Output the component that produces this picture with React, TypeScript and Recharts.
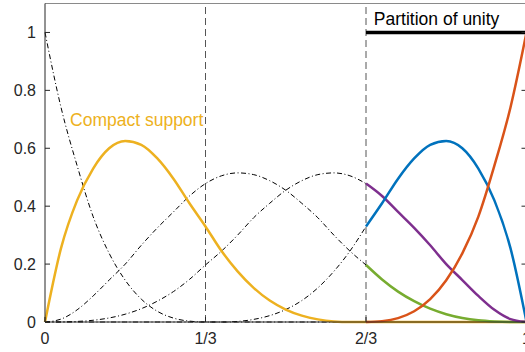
import { Line, LineChart, ReferenceDot, ReferenceLine, XAxis, YAxis } from "recharts";

// sample positions along the parameter axis
const xs = [
  0, 0.0333, 0.0667, 0.1, 0.1333, 0.1667, 0.2, 0.2333, 0.2667, 0.3, 0.3333, 0.3667, 0.4, 0.4333, 0.4667, 0.5,
  0.5333, 0.5667, 0.6, 0.6333, 0.6667, 0.7, 0.7333, 0.7667, 0.8, 0.8333, 0.8667, 0.9, 0.9333, 0.9667, 1
];

const xTicks = [0, 1 / 3, 2 / 3, 1];
const xTickLabels = ["0", "1/3", "2/3", "1"];
const yTicks = [0, 0.2, 0.4, 0.6, 0.8, 1];
const yTickLabels = ["0", "0.2", "0.4", "0.6", "0.8", "1"];

// basis functions on [0, 2/3] (dash-dot)
const n0Dash = [1, 0.741, 0.54, 0.364, 0.237, 0.144, 0.079, 0.037, 0.0135, 0.003, 0, 0, 0, 0, 0, 0, 0, 0, 0, 0, 0];
const n2Dash = [0, 0.01, 0.042, 0.09, 0.145, 0.2, 0.265, 0.325, 0.38, 0.435, 0.478, 0.505, 0.515, 0.509, 0.488, 0.455, 0.41, 0.36, 0.3, 0.245, 0.197];
const n3Dash = [0, 0.0003, 0.002, 0.006, 0.014, 0.027, 0.046, 0.072, 0.105, 0.147, 0.197, 0.245, 0.3, 0.36, 0.41, 0.455, 0.488, 0.509, 0.515, 0.505, 0.478];
const n4Dash = [0, 0, 0, 0, 0, 0, 0, 0, 0, 0, 0, 0, 0.002, 0.009, 0.022, 0.043, 0.074, 0.118, 0.175, 0.245, 0.33];

// the highlighted basis function, whole interval
const n1Curve = [
  0, 0.255, 0.42, 0.53, 0.6, 0.625, 0.612, 0.565, 0.495, 0.41, 0.33, 0.245, 0.175, 0.118, 0.074, 0.043, 0.022, 0.009,
  0.002, 0, 0, 0, 0, 0, 0, 0, 0, 0, 0, 0, 0
];

// basis functions on [2/3, 1]
const n2Right = [0.197, 0.147, 0.105, 0.072, 0.046, 0.027, 0.014, 0.006, 0.002, 0.0003, 0];
const n3Right = [0.478, 0.435, 0.38, 0.325, 0.265, 0.2, 0.145, 0.09, 0.042, 0.01, 0];
const n4Right = [0.33, 0.41, 0.495, 0.565, 0.612, 0.625, 0.6, 0.53, 0.42, 0.255, 0];
const n5Right = [0, 0.003, 0.0135, 0.037, 0.079, 0.144, 0.237, 0.364, 0.54, 0.741, 1];
const unityRight = [1, 1, 1, 1, 1, 1, 1, 1, 1, 1, 1];

const SPLIT = 20;

const rows = xs.map((x, i) => ({
  x,
  n0d: i <= SPLIT ? n0Dash[i] : null,
  n2d: i <= SPLIT ? n2Dash[i] : null,
  n3d: i <= SPLIT ? n3Dash[i] : null,
  n4d: i <= SPLIT ? n4Dash[i] : null,
  n1: n1Curve[i],
  n2r: i >= SPLIT ? n2Right[i - SPLIT] : null,
  n3r: i >= SPLIT ? n3Right[i - SPLIT] : null,
  n4r: i >= SPLIT ? n4Right[i - SPLIT] : null,
  n5r: i >= SPLIT ? n5Right[i - SPLIT] : null,
  unity: i >= SPLIT ? unityRight[i - SPLIT] : null
}));

const AXIS = "#262626";
const FONT = "'Liberation Sans', Arial, Helvetica, sans-serif";
const PLOT_W = 481.5;
const X_GAP = 11;
const Y_GAP = 9;
const DASH_DOT = "5 2.5 1 2.5";

function nearest(list: number[], v: number) {
  let best = 0;
  list.forEach((t, i) => {
    if (Math.abs(t - v) < Math.abs(list[best] - v)) best = i;
  });
  return best;
}

function XTick({ x, y, payload }: any) {
  const label = xTickLabels[nearest(xTicks, payload.value)];
  return (
    <g>
      <line x1={x} x2={x} y1={y - X_GAP} y2={y - X_GAP - 5} stroke={AXIS} />
      <text x={x} y={y} dy="0.71em" textAnchor="middle" fontSize={16} fill={AXIS} fontFamily={FONT}>
        {label}
      </text>
    </g>
  );
}

function YTick({ x, y, payload }: any) {
  const label = yTickLabels[nearest(yTicks, payload.value)];
  const axisX = x + Y_GAP;
  return (
    <g>
      <line x1={axisX} x2={axisX + 5} y1={y} y2={y} stroke={AXIS} />
      <line x1={axisX + PLOT_W} x2={axisX + PLOT_W - 5} y1={y} y2={y} stroke={AXIS} />
      <text x={x} y={y} dy="0.36em" textAnchor="end" fontSize={16} fill={AXIS} fontFamily={FONT}>
        {label}
      </text>
    </g>
  );
}

const noteText = (text: string, color: string) => (p: any) => (
  <text x={p.cx} y={p.cy} fontSize={17.5} fill={color} fontFamily={FONT}>
    {text}
  </text>
);

export default function App() {
  return (
    <div style={{ position: "absolute", left: 0, top: 0, width: 525, height: 352, overflow: "hidden", background: "#fff" }}>
      <LineChart width={531} height={352} data={rows} margin={{ top: 3.5, right: 4.5, bottom: 0, left: 0 }}>
        <XAxis
          dataKey="x"
          type="number"
          domain={[0, 1]}
          ticks={xTicks}
          height={30}
          tickSize={0}
          tickMargin={X_GAP}
          tickLine={false}
          axisLine={{ stroke: AXIS }}
          tick={<XTick />}
        />
        <YAxis
          type="number"
          domain={[0, 1.1]}
          ticks={yTicks}
          width={45}
          tickSize={0}
          tickMargin={Y_GAP}
          tickLine={false}
          axisLine={{ stroke: AXIS }}
          tick={<YTick />}
        />
        <ReferenceLine y={1.1} stroke="#8a8a8a" />
        <ReferenceLine x={1 / 3} stroke="#555" strokeDasharray="7 4" />
        <ReferenceLine x={2 / 3} stroke="#555" strokeDasharray="7 4" />

        <Line type="monotone" dataKey="n0d" stroke="#000" strokeWidth={1} strokeDasharray={DASH_DOT} dot={false} isAnimationActive={false} />
        <Line type="monotone" dataKey="n2d" stroke="#000" strokeWidth={1} strokeDasharray={DASH_DOT} dot={false} isAnimationActive={false} />
        <Line type="monotone" dataKey="n3d" stroke="#000" strokeWidth={1} strokeDasharray={DASH_DOT} dot={false} isAnimationActive={false} />
        <Line type="monotone" dataKey="n4d" stroke="#000" strokeWidth={1} strokeDasharray={DASH_DOT} dot={false} isAnimationActive={false} />

        <Line type="monotone" dataKey="n1" stroke="#EDB120" strokeWidth={2.5} dot={false} isAnimationActive={false} />
        <Line type="monotone" dataKey="n2r" stroke="#77AC30" strokeWidth={2.5} dot={false} isAnimationActive={false} />
        <Line type="monotone" dataKey="n3r" stroke="#7E2F8E" strokeWidth={2.5} dot={false} isAnimationActive={false} />
        <Line type="monotone" dataKey="n4r" stroke="#0072BD" strokeWidth={2.5} dot={false} isAnimationActive={false} />
        <Line type="monotone" dataKey="n5r" stroke="#D95319" strokeWidth={2.5} dot={false} isAnimationActive={false} />
        <Line type="linear" dataKey="unity" stroke="#000" strokeWidth={3.5} dot={false} isAnimationActive={false} />

        <ReferenceDot x={0.052} y={0.676} r={0} shape={noteText("Compact support", "#EDB120")} />
        <ReferenceDot x={0.683} y={1.025} r={0} shape={noteText("Partition of unity", "#000")} />
      </LineChart>
    </div>
  );
}
